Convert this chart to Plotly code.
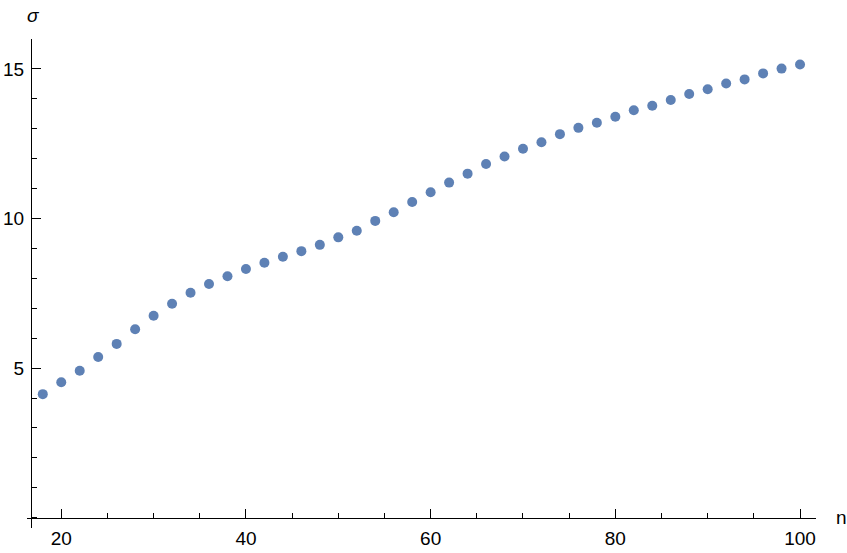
import plotly.graph_objects as go

n = list(range(18, 101, 2))
sigma = [4.13, 4.53, 4.91, 5.37, 5.81, 6.30, 6.75, 7.15, 7.52, 7.81,
         8.07, 8.31, 8.52, 8.72, 8.91, 9.12, 9.37, 9.59, 9.92, 10.21,
         10.55, 10.88, 11.20, 11.50, 11.82, 12.07, 12.33, 12.55, 12.82, 13.03,
         13.20, 13.40, 13.62, 13.77, 13.96, 14.16, 14.32, 14.51, 14.65, 14.85,
         15.01, 15.15]

x_ticks = [20, 40, 60, 80, 100]
y_ticks = [5, 10, 15]

xr = [16.29, 101.73]
yr = [-0.344, 16.0]
x_cross = 16.72

FONT = "Liberation Sans, Arial, sans-serif"

fig = go.Figure()
fig.add_trace(go.Scatter(x=n, y=sigma, mode="markers",
                         marker=dict(color="#5E81B5", size=10, line=dict(width=0)),
                         hoverinfo="x+y", showlegend=False))

fig.update_layout(
    width=847, height=553,
    margin=dict(l=27, r=31, t=39, b=25),
    plot_bgcolor="white", paper_bgcolor="white",
    font=dict(family=FONT, size=19, color="black"),
    xaxis=dict(range=xr, tickvals=x_ticks, showgrid=False, zeroline=False,
               showline=True, linecolor="black", linewidth=1,
               ticks="inside", ticklen=9, tickcolor="black", tickwidth=1,
               anchor="free", position=(0 - yr[0]) / (yr[1] - yr[0]),
               automargin=False, ticklabelstandoff=3,
               minor=dict(dtick=5, tick0=0, ticks="inside", ticklen=5,
                          tickcolor="black", tickwidth=1, showgrid=False),
               tickfont=dict(size=19, color="black")),
    yaxis=dict(range=yr, tickvals=y_ticks, showgrid=False, zeroline=False,
               showline=True, linecolor="black", linewidth=1,
               ticks="inside", ticklen=9, tickcolor="black", tickwidth=1,
               anchor="free", position=(x_cross - xr[0]) / (xr[1] - xr[0]),
               automargin=False, ticklabelstandoff=3,
               minor=dict(dtick=1, tick0=0, ticks="inside", ticklen=5,
                          tickcolor="black", tickwidth=1, showgrid=False),
               tickfont=dict(size=19, color="black")),
    annotations=[
        dict(text="<i>σ</i>", xref="paper", yref="paper", x=0.005, y=1.0,
             xshift=3, yshift=24, xanchor="center", yanchor="middle",
             showarrow=False, font=dict(size=19)),
        dict(text="n", xref="paper", yref="y", x=1.0, y=0, xshift=25,
             xanchor="center", yanchor="middle", showarrow=False,
             font=dict(size=19)),
    ],
)

fig.write_html("out.html", config={"displayModeBar": False},
               post_script="document.body.style.margin='0';document.body.style.overflow='hidden';")
